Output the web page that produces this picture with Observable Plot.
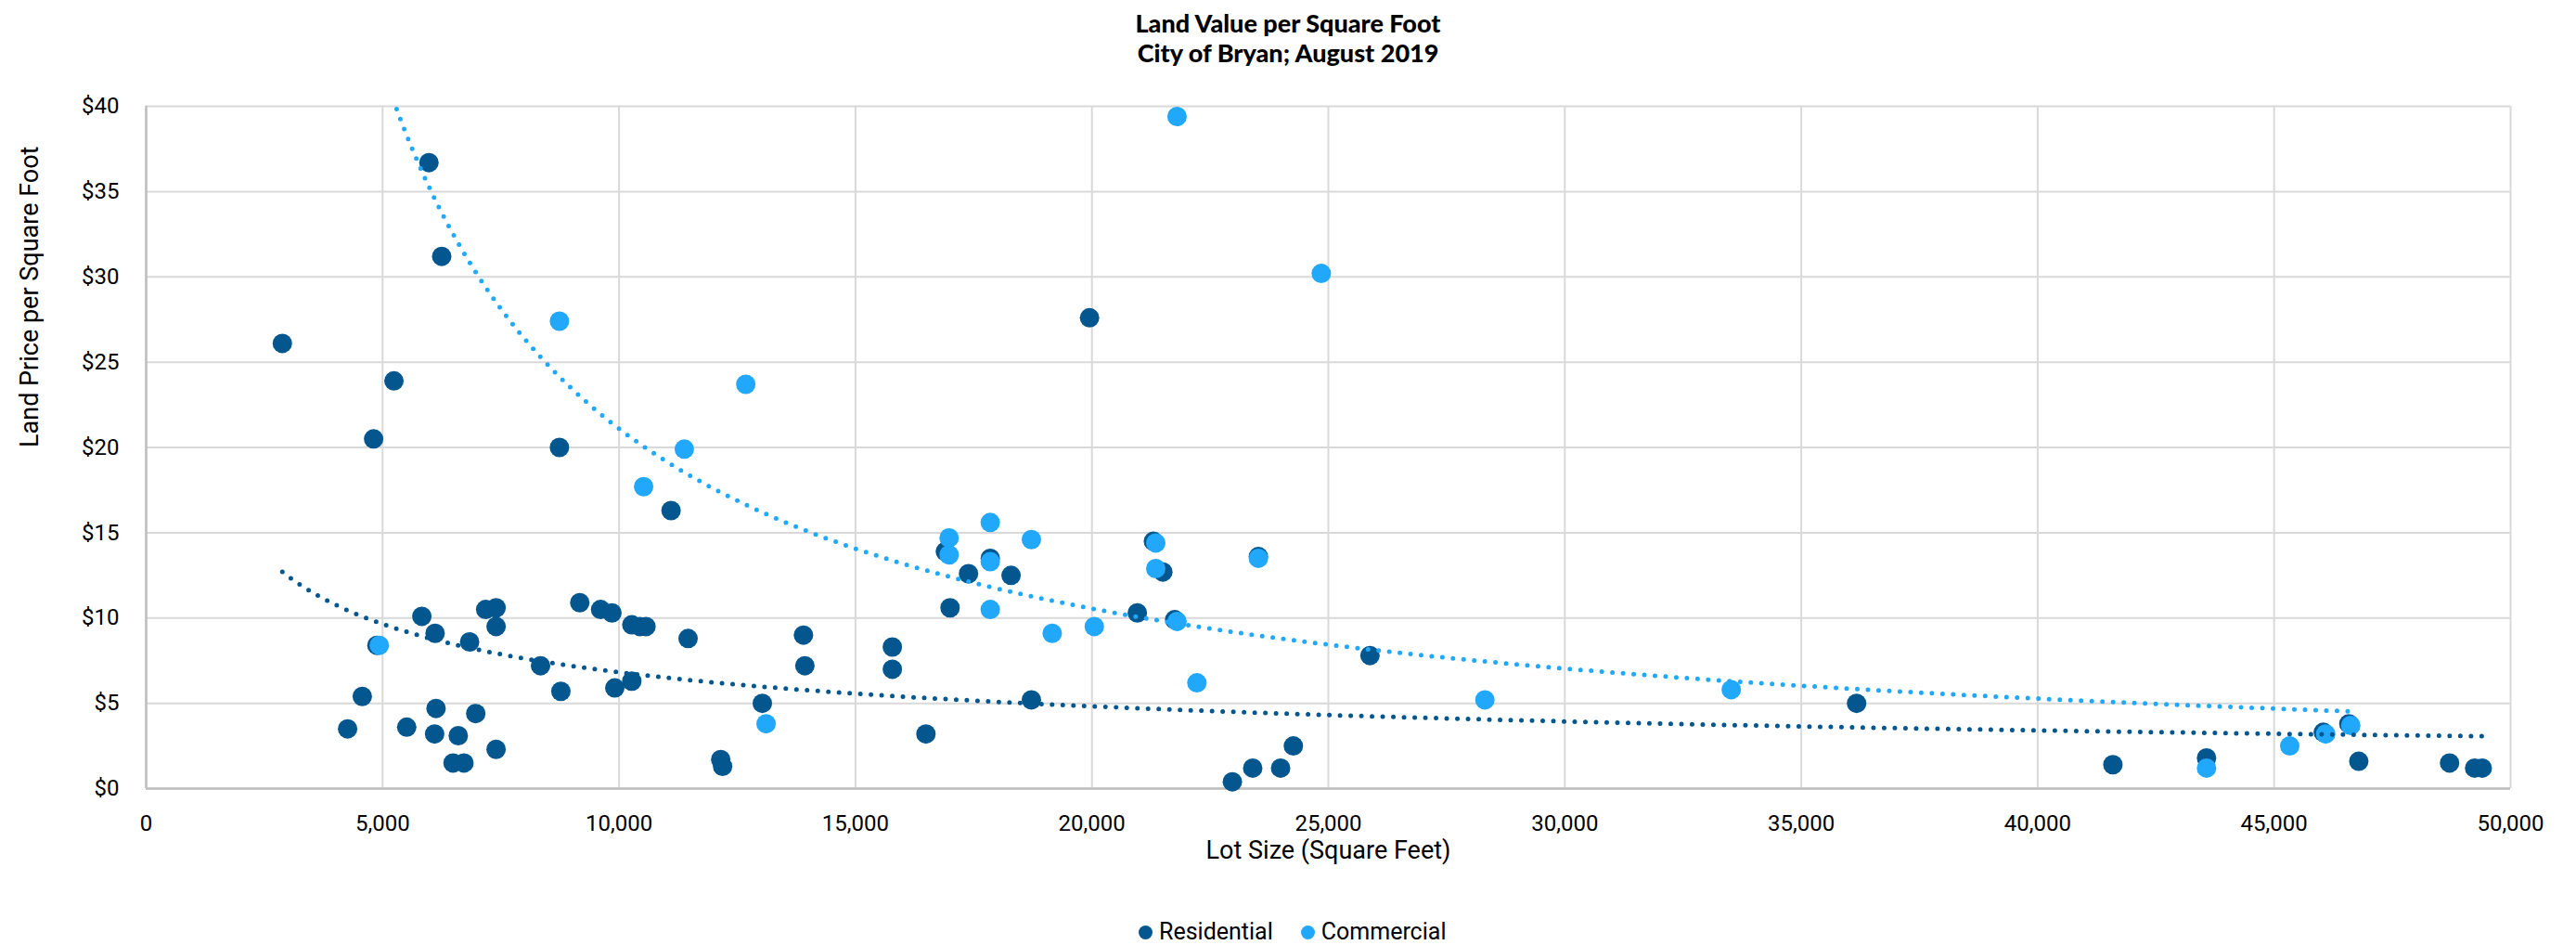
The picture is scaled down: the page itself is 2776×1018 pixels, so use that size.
<!DOCTYPE html>
<html>
<head>
<meta charset="utf-8">
<script src="https://cdn.jsdelivr.net/npm/d3@7"></script>
<script src="https://cdn.jsdelivr.net/npm/@observablehq/plot@0.6"></script>
<style>
  html, body { margin: 0; padding: 0; background: #fff; }
  #wrap { position: relative; width: 2776px; height: 1018px; overflow: hidden; }
  #title { height: 76px; padding-top: 9px; text-align: center; font-family: Lato, "Open Sans", sans-serif; font-weight: 900; font-size: 27px; line-height: 32px; color: #000; }
  #legend { position: absolute; left: 1227px; top: 991px; height: 26px; line-height: 26px; display: flex; align-items: center; font-family: Roboto, sans-serif; font-size: 25px; color: #000; }
  #legend .item { display: flex; align-items: center; margin-right: 30px; }
  #legend .sw { width: 15px; height: 15px; border-radius: 50%; margin-right: 7px; }
</style>
</head>
<body>
<div id="wrap">
  <div id="title">Land Value per Square Foot<br>City of Bryan; August 2019</div>
  <div id="chart"></div>
  <div id="legend"></div>
</div>
<script>
// ---- Data ----
const seriesNames = ["Residential", "Commercial"];
const seriesColors = ["#03568e", "#21a8fb"];

const residentialX = [2880, 5980, 6250, 5240, 4810, 8740, 11100, 5830, 6110, 4880, 6840, 7180, 7400, 7400, 9170, 9610, 9850, 10270, 10440, 10570, 11460, 8340, 8770, 9910, 10270, 4570, 4260, 5510, 6130, 6100, 6600, 6970, 6490, 6720, 7400, 12150, 12190, 13030, 13900, 13930, 19950, 16900, 17850, 17390, 18290, 17000, 20960, 21300, 21500, 21750, 23520, 25880, 15780, 15780, 18720, 16490, 22970, 23400, 23990, 24260, 36170, 41590, 43570, 46040, 46580, 46790, 48710, 49240, 49400];
const residentialY = [26.1, 36.7, 31.2, 23.9, 20.5, 20.0, 16.3, 10.1, 9.1, 8.4, 8.6, 10.5, 10.6, 9.5, 10.9, 10.5, 10.3, 9.6, 9.5, 9.5, 8.8, 7.2, 5.7, 5.9, 6.3, 5.4, 3.5, 3.6, 4.7, 3.2, 3.1, 4.4, 1.5, 1.5, 2.3, 1.7, 1.3, 5.0, 9.0, 7.2, 27.6, 13.9, 13.5, 12.6, 12.5, 10.6, 10.3, 14.5, 12.7, 9.9, 13.6, 7.8, 8.3, 7.0, 5.2, 3.2, 0.4, 1.2, 1.2, 2.5, 5.0, 1.4, 1.8, 3.3, 3.8, 1.6, 1.5, 1.2, 1.2];

const commercialX = [21800, 24850, 8740, 12680, 11380, 10520, 4930, 13110, 16980, 16980, 17850, 17850, 18720, 17850, 19160, 20050, 21350, 21350, 21800, 22220, 23520, 28310, 33520, 43570, 45330, 46090, 46620];
const commercialY = [39.4, 30.2, 27.4, 23.7, 19.9, 17.7, 8.4, 3.8, 14.7, 13.7, 15.6, 13.3, 14.6, 10.5, 9.1, 9.5, 14.4, 12.9, 9.8, 6.2, 13.5, 5.2, 5.8, 1.2, 2.5, 3.2, 3.7];

// Power trendlines y = coef * x^exp
const trendResidential = [682, -0.5];
const trendCommercial = [211000, -1.0];

const xTicks = [0, 5000, 10000, 15000, 20000, 25000, 30000, 35000, 40000, 45000, 50000];
const yTicks = [0, 5, 10, 15, 20, 25, 30, 35, 40];

// ---- Build tables ----
const residential = residentialX.map((x, i) => ({x, y: residentialY[i]}));
const commercial = commercialX.map((x, i) => ({x, y: commercialY[i]}));

function trend(xs, [coef, exp]) {
  const [x0, x1] = d3.extent(xs);
  return d3.range(0, 401).map(i => {
    const x = x0 + (x1 - x0) * i / 400;
    return {x, y: coef * Math.pow(x, exp)};
  });
}
const resTrend = trend(residentialX, trendResidential);
const comTrend = trend(commercialX, trendCommercial);

const chart = Plot.plot({
  width: 2776,
  height: 880,
  marginTop: 29,
  marginLeft: 157,
  marginRight: 71,
  marginBottom: 116,
  x: {domain: [0, 50000]},
  y: {domain: [0, 40]},
  style: {fontFamily: "Roboto, sans-serif", fontSize: "24px", color: "#000", background: "#fff", overflow: "visible"},
  marks: [
    Plot.gridX(xTicks, {stroke: "#d9d9d9", strokeOpacity: 1, strokeWidth: 2}),
    Plot.gridY(yTicks, {stroke: "#d9d9d9", strokeOpacity: 1, strokeWidth: 2}),
    Plot.ruleX([0], {stroke: "#bfbfbf", strokeWidth: 2.5}),
    Plot.ruleY([0], {stroke: "#bfbfbf", strokeWidth: 2.5}),
    Plot.axisX(xTicks, {tickSize: 0, tickPadding: 28, tickFormat: d3.format(","), label: null, fontSize: 24}),
    Plot.axisY(yTicks, {tickSize: 0, tickPadding: 29, tickFormat: d => "$" + d, label: null, fontSize: 24}),
    Plot.text(["Land Price per Square Foot"], {frameAnchor: "left", rotate: -90, dx: -125, fontSize: 27, text: d => d}),
    Plot.text(["Lot Size (Square Feet)"], {frameAnchor: "bottom", dy: 75, fontSize: 27, text: d => d}),
    Plot.dot(residential, {x: "x", y: "y", r: 10.5, fill: seriesColors[0]}),
    Plot.dot(commercial, {x: "x", y: "y", r: 10.5, fill: seriesColors[1]}),
    Plot.line(resTrend, {x: "x", y: "y", stroke: seriesColors[0], strokeWidth: 5, strokeDasharray: "0 11.5", strokeLinecap: "round", clip: true}),
    Plot.line(comTrend, {x: "x", y: "y", stroke: seriesColors[1], strokeWidth: 5, strokeDasharray: "0 11.5", strokeLinecap: "round", clip: true})
  ]
});
document.getElementById("chart").appendChild(chart);

const legend = document.getElementById("legend");
seriesNames.forEach((name, i) => {
  const item = document.createElement("div");
  item.className = "item";
  const sw = document.createElement("span");
  sw.className = "sw";
  sw.style.background = seriesColors[i];
  const label = document.createElement("span");
  label.textContent = name;
  item.appendChild(sw);
  item.appendChild(label);
  legend.appendChild(item);
});
</script>
</body>
</html>
